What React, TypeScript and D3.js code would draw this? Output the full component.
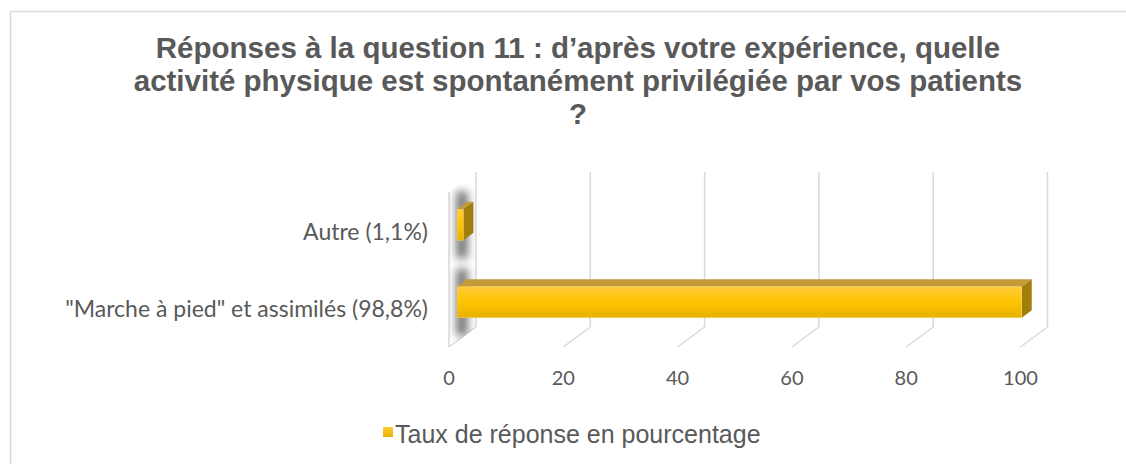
import React from "react";
import * as d3 from "d3";

const titleLines = [
  "Réponses à la question 11 : d’après votre expérience, quelle",
  "activité physique est spontanément privilégiée par vos patients",
  "?",
];
const categories = ["Autre (1,1%)", "\"Marche à pied\" et assimilés (98,8%)"];
const values = [1.1, 98.8];
const ticks = [0, 20, 40, 60, 80, 100];
const seriesName = "Taux de réponse en pourcentage";

const W = 1126;
const H = 464;
const front = { x0: 449, x1: 1020.5, y0: 192, y1: 347 };
const DX = 27;
const DY = -20;
const barDepthStart = 0.3;
const barDepthEnd = 0.67;

export default function App() {
  const x = d3.scaleLinear().domain([0, 100]).range([front.x0, front.x1]);
  const y = d3.scaleBand<string>().domain(categories).range([front.y0, front.y1]).padding(0);
  const bh = y.bandwidth() * 0.4;
  const ox1 = DX * barDepthStart, oy1 = DY * barDepthStart;
  const ox2 = DX * barDepthEnd, oy2 = DY * barDepthEnd;
  const labelFont = "Lato, 'Open Sans', sans-serif";
  const arial = "'Liberation Sans', Arial, sans-serif";
  return (
    <svg width={W} height={H} style={{ position: "absolute", left: 0, top: 0 }}>
      <defs>
        <linearGradient id="frontG" x1="0" y1="0" x2="0" y2="1">
          <stop offset="0" stopColor="#FFCB3A" />
          <stop offset="0.5" stopColor="#FFC400" />
          <stop offset="1" stopColor="#E8B000" />
        </linearGradient>
        <linearGradient id="legG" x1="0" y1="0" x2="0" y2="1">
          <stop offset="0" stopColor="#FFCB3A" />
          <stop offset="1" stopColor="#E8B000" />
        </linearGradient>
        <filter id="blur" x="-2" y="-1" width="5" height="3">
          <feGaussianBlur stdDeviation="4.5" />
        </filter>
        <clipPath id="wallClip">
          <polygon points={`${front.x0},${front.y0} ${front.x0 + DX},${front.y0 + DY} ${front.x0 + DX},${front.y1 + DY} ${front.x0},${front.y1}`} />
        </clipPath>
      </defs>
      <rect x={10.5} y={11.5} width={W + 20} height={H + 20} fill="#fff" stroke="#D9D9D9" strokeWidth={1.5} />
      {titleLines.map((t, i) => (
        <text key={i} x={578} y={58 + i * 33} textAnchor="middle" fontFamily={arial} fontWeight="bold" fontSize={29.5} fill="#595959">{t}</text>
      ))}
      {/* gridlines */}
      {ticks.map((t) => (
        <g key={t} stroke="#D9D9D9" strokeWidth={1.5} fill="none">
          <line x1={x(t) + DX} y1={front.y0 + DY} x2={x(t) + DX} y2={front.y1 + DY} />
          <line x1={x(t)} y1={front.y1} x2={x(t) + DX} y2={front.y1 + DY} />
          {t === 0 && <line x1={x(t)} y1={front.y0} x2={x(t)} y2={front.y1} />}
        </g>
      ))}
      {/* shadows on left wall */}
      <g clipPath="url(#wallClip)">
        {categories.map((c) => {
          const yc = (y(c) as number) + y.bandwidth() / 2;
          return (
            <rect key={c} x={front.x0 + 7} y={yc - bh / 2 + oy1 - 18} width={12} height={bh + 36} fill="#333" opacity={0.65} filter="url(#blur)" />
          );
        })}
      </g>
      {/* bars */}
      {categories.map((c, i) => {
        const yc = (y(c) as number) + y.bandwidth() / 2;
        const top = yc - bh / 2;
        const bot = yc + bh / 2;
        const xa = x(0), xb = x(values[i]);
        return (
          <g key={c}>
            <polygon points={`${xa + ox1},${top + oy1} ${xa + ox2},${top + oy2} ${xb + ox2},${top + oy2} ${xb + ox1},${top + oy1}`} fill="#C29A38" />
            <polygon points={`${xb + ox1},${top + oy1} ${xb + ox2},${top + oy2} ${xb + ox2},${bot + oy2} ${xb + ox1},${bot + oy1}`} fill="#A07E0C" />
            <rect x={xa + ox1} y={top + oy1} width={xb - xa} height={bh} fill="url(#frontG)" stroke="#F2D27A" strokeWidth={0.5} />
          </g>
        );
      })}
      {/* category labels */}
      {categories.map((c) => (
        <text key={c} x={428} y={(y(c) as number) + y.bandwidth() / 2 + 9} textAnchor="end" fontFamily={labelFont} fontSize={23} fill="#595959">{c}</text>
      ))}
      {/* tick labels */}
      {ticks.map((t) => (
        <text key={t} x={x(t)} y={385} textAnchor="middle" fontFamily={labelFont} fontSize={20} fill="#595959">{t}</text>
      ))}
      {/* legend */}
      <rect x={383} y={427} width={10} height={10} fill="url(#legG)" />
      <text x={395} y={443} fontFamily={arial} fontSize={25} fill="#595959">{seriesName}</text>
    </svg>
  );
}
